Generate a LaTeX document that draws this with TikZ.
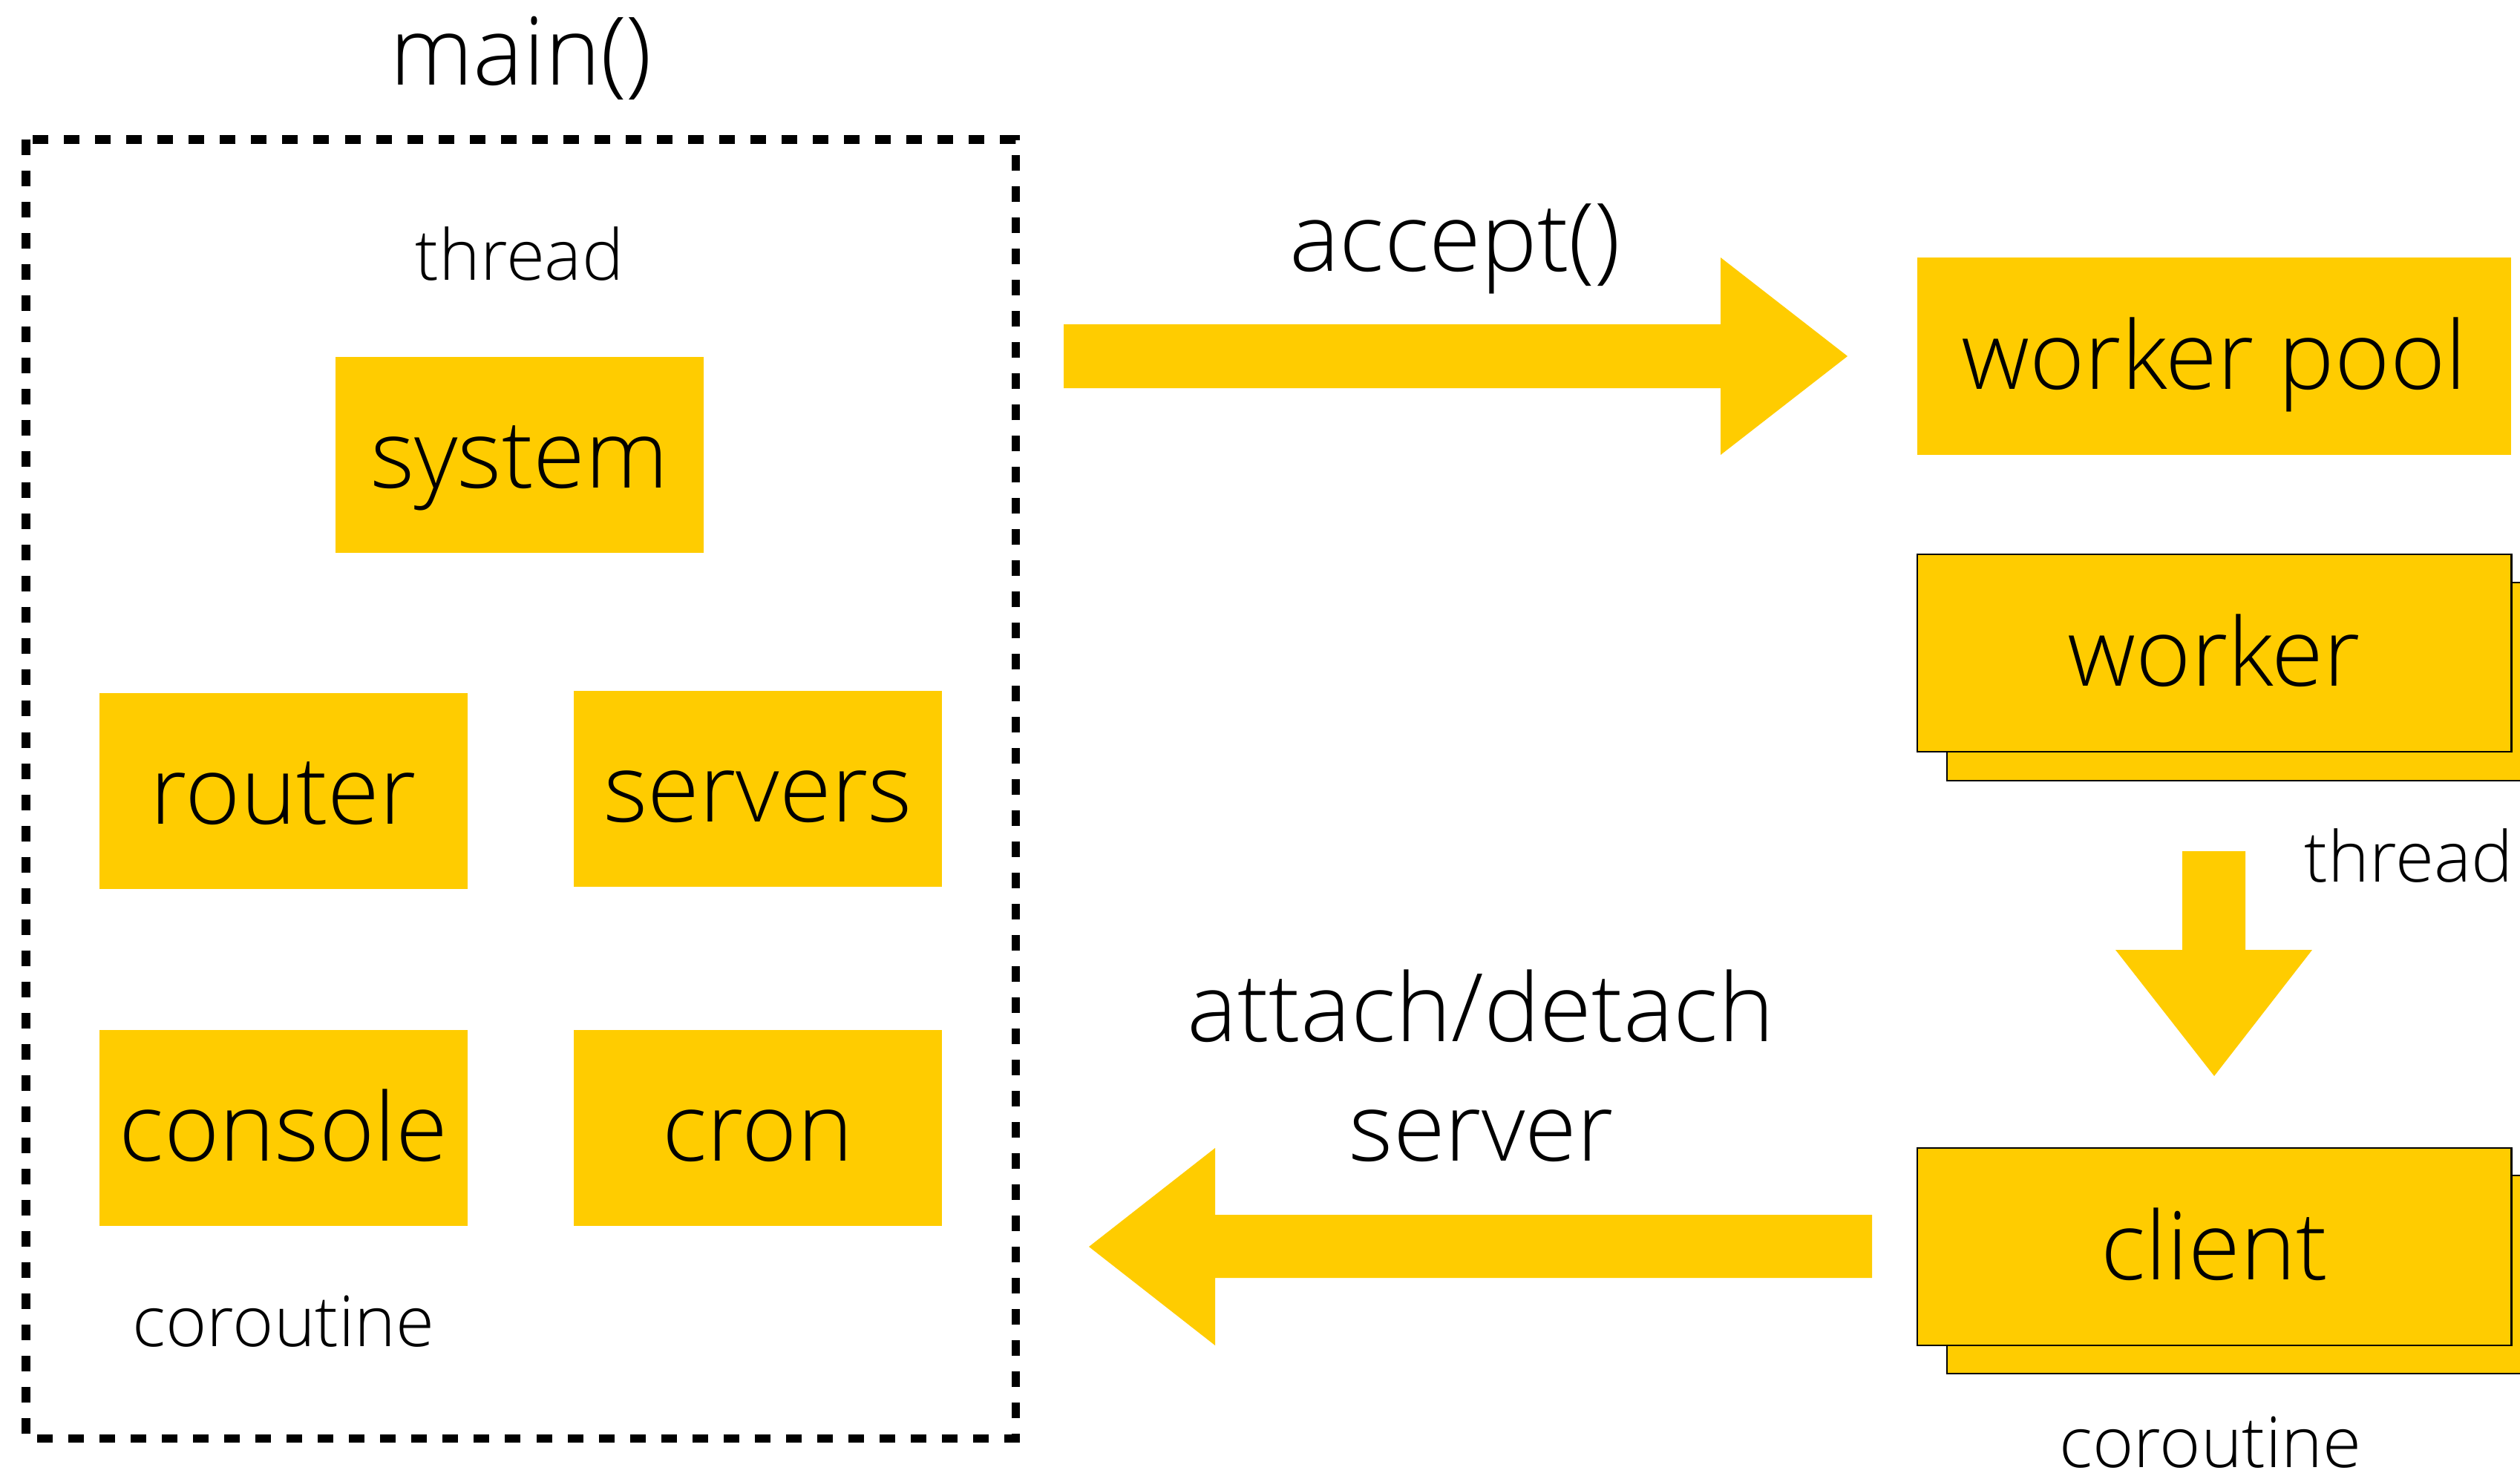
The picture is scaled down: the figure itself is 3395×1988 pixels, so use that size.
\documentclass[tikz,border=0pt]{standalone}
\usepackage{fontspec}
\setmainfont{Open Sans Light}
\definecolor{ybox}{RGB}{255,204,0}
\tikzset{
  bigtxt/.style={font=\fontsize{36.2}{42}\selectfont},
  smalltxt/.style={font=\fontsize{26.9}{32}\selectfont},
  label/.style={inner sep=0pt, anchor=base},
  ybx/.style={fill=ybox, inner sep=0pt, text height=0.88cm, text depth=0cm, bigtxt},
  smallbox/.style={ybx, minimum width=4.96cm, minimum height=2.64cm},
  widebox/.style={ybx, minimum width=8.0cm, minimum height=2.66cm},
  stackbox/.style={fill=ybox, draw=black, line width=0.025cm},
  blockarrow/.style={fill=ybox},
  groupframe/.style={draw=black, line width=0.11cm, dash pattern=on 0.21cm off 0.21cm}
}
\begin{document}
\begin{tikzpicture}[x=0.01cm, y=-0.01cm]
\useasboundingbox (0,0) rectangle (3395,1988);
\fill[white] (0,0) rectangle (3395,1988);

% main() frame
\draw[groupframe] (35,188) rectangle (1368,1938);
\node[label, bigtxt] (mainlbl) at (702,115) {main()};
\node[label, smalltxt] (threadtop) at (700,377) {thread};
\node[label, smalltxt] (corleft) at (382,1814) {coroutine};

% coroutine boxes
\node[smallbox] (system) at (700,613) {system};
\node[smallbox] (router) at (382,1066) {router};
\node[smallbox] (servers) at (1021,1063) {servers};
\node[smallbox] (console) at (382,1520) {console};
\node[smallbox] (cron) at (1021,1520) {cron};

% right column
\node[widebox] (pool) at (2983,480) {worker pool};

\draw[stackbox] (2623,785) rectangle (3420,1052);
\node[widebox, draw=black, line width=0.025cm] (worker) at (2983,880) {worker};
\node[label, smalltxt] (threadright) at (3245,1188) {thread};

\draw[stackbox] (2623,1584) rectangle (3420,1851);
\node[widebox, draw=black, line width=0.025cm] (client) at (2983,1680) {client};
\node[label, smalltxt] (corright) at (2978,1977) {coroutine};

% accept() arrow
\fill[blockarrow] (1433,437) -- (2318,437) -- (2318,347) -- (2489,480)
  -- (2318,613) -- (2318,523) -- (1433,523) -- cycle;
\node[label, bigtxt] (acceptlbl) at (1960,365) {accept()};

% down arrow
\fill[blockarrow] (2940,1147) -- (3025,1147) -- (3025,1280) -- (3115,1280)
  -- (2983,1450) -- (2850,1280) -- (2940,1280) -- cycle;

% attach/detach arrow
\fill[blockarrow] (2522,1637) -- (1637,1637) -- (1637,1547) -- (1467,1680)
  -- (1637,1813) -- (1637,1722) -- (2522,1722) -- cycle;
\node[label, bigtxt] (attachlbl) at (1995,1403) {attach/detach};
\node[label, bigtxt] (serverlbl) at (1996,1564) {server};
\end{tikzpicture}
\end{document}
